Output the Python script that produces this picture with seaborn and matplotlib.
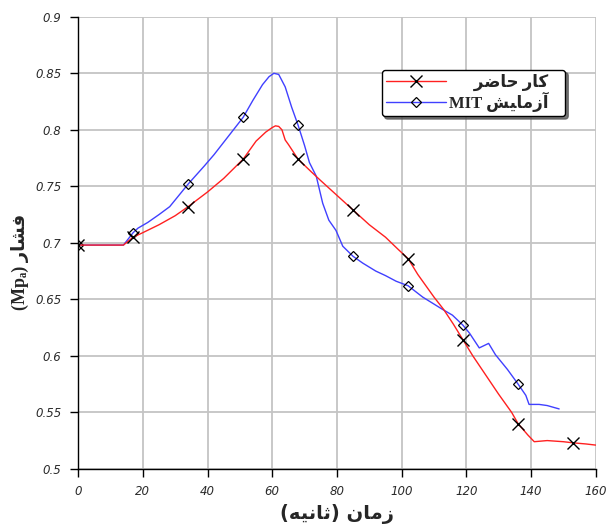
import numpy as np
import pandas as pd
import seaborn as sns
import matplotlib
matplotlib.use("Agg")
import matplotlib.pyplot as plt

# Simulation (current work)
red_t = [0, 14, 17, 20, 25, 30, 34, 40, 45, 51,
         55, 58, 60, 61, 62, 63, 64, 65, 68, 72,
         75, 80, 85, 90, 95, 99, 102, 105, 110, 113,
         116, 119, 122, 126, 130, 134, 136, 139, 141, 145,
         150, 153, 157, 160]
red_p = [0.698, 0.698, 0.705, 0.709, 0.716, 0.724, 0.732, 0.745, 0.757, 0.774,
         0.790, 0.798, 0.802, 0.8035, 0.803, 0.800, 0.791, 0.787, 0.774, 0.763,
         0.755, 0.742, 0.729, 0.716, 0.705, 0.694, 0.686, 0.672, 0.652, 0.641,
         0.628, 0.614, 0.600, 0.583, 0.566, 0.550, 0.540, 0.530, 0.524, 0.525,
         0.524, 0.523, 0.522, 0.521]

# MIT experiment
blue_t = [0, 14, 17, 18.5, 21.5, 25, 28.3, 34, 39, 42,
          45, 48, 51, 54, 57, 59, 60.5, 62, 64, 66,
          68, 70, 71.5, 73.6, 75.6, 77.5, 79.7, 81.8, 85, 88,
          92, 95, 98.3, 102, 106.5, 112.7, 115.7, 119, 121, 124,
          126.9, 129, 132.7, 136, 138.4, 139.4, 142.5, 145, 148.7]
blue_p = [0.698, 0.698, 0.709, 0.713, 0.718, 0.725, 0.732, 0.752, 0.768, 0.778,
          0.789, 0.800, 0.811, 0.826, 0.840, 0.847, 0.850, 0.849, 0.838, 0.820,
          0.804, 0.786, 0.771, 0.759, 0.735, 0.720, 0.711, 0.697, 0.688, 0.682,
          0.675, 0.671, 0.666, 0.662, 0.652, 0.641, 0.636, 0.627, 0.620, 0.607,
          0.611, 0.601, 0.588, 0.575, 0.565, 0.557, 0.557, 0.556, 0.553]

red_marks = [0, 17, 34, 51, 68, 85, 102, 119, 136, 153]
blue_marks = [0, 17, 34, 51, 68, 85, 102, 119, 136]

x_ticks = [0, 20, 40, 60, 80, 100, 120, 140, 160]
y_ticks = [0.5, 0.55, 0.6, 0.65, 0.7, 0.75, 0.8, 0.85, 0.9]

# Persian labels in presentation forms, visual (left-to-right) order
label_red = "\uFEAE\uFEBF\uFE8E\uFEA3 \uFEAD\uFE8E\uFB90"          # کار حاضر
label_blue = "MIT \uFEB6\uFEF4\uFE8E\uFEE3\uFEAF\uFE81"              # آزمایش MIT
x_label = "(\uFEEA\uFEF4\uFEE7\uFE8E\uFE9B) \uFEE5\uFE8E\uFEE3\uFEAF"  # زمان (ثانیه)
y_label = "(Mp\u2090) \uFEAD\uFE8E\uFEB8\uFED3"                       # فشار (Mpa)

sns.set_style("white")

fig = plt.figure(figsize=(6.06, 5.25), dpi=100)
ax = fig.add_axes([0.129, 0.107, 0.854, 0.861])

df_blue = pd.DataFrame({"t": blue_t, "p": blue_p})
df_red = pd.DataFrame({"t": red_t, "p": red_p})

blue_idx = [i for i, t in enumerate(blue_t) if t in blue_marks]
red_idx = [i for i, t in enumerate(red_t) if t in red_marks]

sns.lineplot(data=df_blue, x="t", y="p", ax=ax, color="#4040ff", lw=1.0,
             marker="D", markersize=5.5, markerfacecolor="none",
             markeredgecolor="black", markeredgewidth=0.9,
             markevery=blue_idx, label=label_blue, sort=False)
sns.lineplot(data=df_red, x="t", y="p", ax=ax, color="#ff2020", lw=1.0,
             marker="x", markersize=8, markeredgecolor="black",
             markeredgewidth=1.0, markevery=red_idx, label=label_red,
             sort=False)

ax.set_xlim(0, 160)
ax.set_ylim(0.5, 0.9)
ax.set_xticks(x_ticks)
ax.set_yticks(y_ticks)
ax.set_xticklabels([f"{v:g}" for v in x_ticks])
ax.set_yticklabels([f"{v:g}" for v in y_ticks])
ax.grid(True, color="#c4c4c4", lw=1.3)
ax.set_axisbelow(True)

for s in ["top", "right"]:
    ax.spines[s].set_visible(False)
for s in ["left", "bottom"]:
    ax.spines[s].set_color("black")
    ax.spines[s].set_linewidth(1.0)

ax.tick_params(axis="both", which="major", direction="out", length=6,
               width=1.0, color="black", labelsize=8.5, labelcolor="#2a2a2a",
               left=True, bottom=True, pad=6)
for lab in ax.get_xticklabels() + ax.get_yticklabels():
    lab.set_fontstyle("italic")
    lab.set_family("DejaVu Sans")

ax.set_xlabel(x_label, fontsize=14, fontweight="bold",
              family=["DejaVu Sans"], labelpad=4)
ax.set_ylabel(y_label, fontsize=13, fontweight="bold",
              family=["Liberation Serif", "DejaVu Sans"])
ax.yaxis.set_label_coords(-0.095, 0.458)

# Legend: red entry first, labels right-aligned by leading spaces
legend_font = {"family": ["Liberation Serif", "DejaVu Sans"],
               "weight": "bold", "size": 12}
renderer = fig.canvas.get_renderer()


def text_width(s):
    t = fig.text(0, 0, s, fontfamily=legend_font["family"],
                 fontweight=legend_font["weight"],
                 fontsize=legend_font["size"])
    w = t.get_window_extent(renderer).width
    t.remove()
    return w


gap = text_width(label_blue) - text_width(label_red)
space_w = text_width("a a") - text_width("aa")
pad_red = " " * max(0, int(round(gap / space_w)))
tail = "   "

handles, labels = ax.get_legend_handles_labels()
leg = ax.legend([handles[1], handles[0]],
                [pad_red + labels[1] + tail, labels[0] + tail],
                loc="upper left", bbox_to_anchor=(0.630, 0.867),
                bbox_transform=fig.transFigure,
                fancybox=True, shadow={"color": "#555555", "alpha": 0.8},
                frameon=True, edgecolor="black",
                handlelength=3.6, handletextpad=0.2, borderpad=0.25,
                labelspacing=0.05, borderaxespad=0, prop=legend_font)
leg.get_frame().set_linewidth(1.0)
leg.get_frame().set_alpha(1)

fig.savefig("out.png", dpi=100)
